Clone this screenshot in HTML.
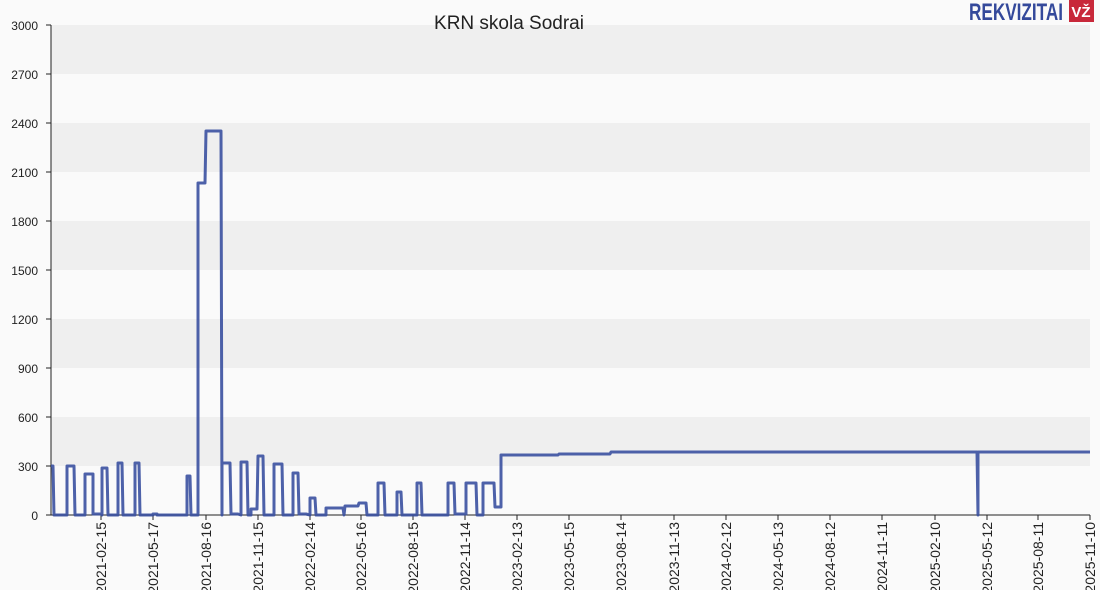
<!DOCTYPE html>
<html><head><meta charset="utf-8"><style>
html,body{margin:0;padding:0;background:#fafafa;}
svg{display:block;font-family:"Liberation Sans",Arial,sans-serif;}
</style></head><body>
<svg width="1100" height="590" viewBox="0 0 1100 590" xmlns="http://www.w3.org/2000/svg">
<rect width="1100" height="590" fill="#fafafa"/>
<g fill="#efefef">
<rect x="51" y="25" width="1039" height="49"/>
<rect x="51" y="123" width="1039" height="49"/>
<rect x="51" y="221" width="1039" height="49"/>
<rect x="51" y="319" width="1039" height="49"/>
<rect x="51" y="417" width="1039" height="49"/>
</g>
<text x="509" y="29" font-size="19" text-anchor="middle" fill="#222">KRN skola Sodrai</text>
<text x="1063" y="20" font-size="24" font-weight="bold" text-anchor="end" fill="#34499b" textLength="94" lengthAdjust="spacingAndGlyphs">REKVIZITAI</text>
<rect x="1069" y="0" width="25" height="22" fill="#c8283a"/>
<text x="1081" y="17" font-size="15" font-weight="bold" text-anchor="middle" fill="#fff">VŽ</text>
<g font-size="12" fill="#222" text-anchor="end">
<text x="38" y="30">3000</text><text x="38" y="79">2700</text><text x="38" y="128">2400</text>
<text x="38" y="177">2100</text><text x="38" y="226">1800</text><text x="38" y="275">1500</text>
<text x="38" y="324">1200</text><text x="38" y="373">900</text><text x="38" y="422">600</text>
<text x="38" y="471">300</text><text x="38" y="520">0</text>
</g>
<g stroke="#222" stroke-width="1">
<line x1="51" y1="25" x2="51" y2="515"/>
<line x1="46" y1="515" x2="1090" y2="515"/>
<line x1="46" y1="25" x2="51" y2="25"/><line x1="46" y1="74" x2="51" y2="74"/><line x1="46" y1="123" x2="51" y2="123"/>
<line x1="46" y1="172" x2="51" y2="172"/><line x1="46" y1="221" x2="51" y2="221"/><line x1="46" y1="270" x2="51" y2="270"/>
<line x1="46" y1="319" x2="51" y2="319"/><line x1="46" y1="368" x2="51" y2="368"/><line x1="46" y1="417" x2="51" y2="417"/>
<line x1="46" y1="466" x2="51" y2="466"/>
</g>
<g stroke="#222" stroke-width="1">
<line x1="101" y1="515" x2="101" y2="520"/><line x1="153" y1="515" x2="153" y2="520"/><line x1="206" y1="515" x2="206" y2="520"/>
<line x1="258" y1="515" x2="258" y2="520"/><line x1="310" y1="515" x2="310" y2="520"/><line x1="361" y1="515" x2="361" y2="520"/>
<line x1="413" y1="515" x2="413" y2="520"/><line x1="465" y1="515" x2="465" y2="520"/><line x1="517" y1="515" x2="517" y2="520"/>
<line x1="569" y1="515" x2="569" y2="520"/><line x1="621" y1="515" x2="621" y2="520"/><line x1="674" y1="515" x2="674" y2="520"/>
<line x1="726" y1="515" x2="726" y2="520"/><line x1="778" y1="515" x2="778" y2="520"/><line x1="830" y1="515" x2="830" y2="520"/>
<line x1="882" y1="515" x2="882" y2="520"/><line x1="935" y1="515" x2="935" y2="520"/><line x1="987" y1="515" x2="987" y2="520"/>
<line x1="1038" y1="515" x2="1038" y2="520"/><line x1="1090" y1="515" x2="1090" y2="520"/>
</g>
<g font-size="14" fill="#222" text-anchor="end">
<text transform="translate(106,522) rotate(-90)">2021-02-15</text>
<text transform="translate(158,522) rotate(-90)">2021-05-17</text>
<text transform="translate(211,522) rotate(-90)">2021-08-16</text>
<text transform="translate(263,522) rotate(-90)">2021-11-15</text>
<text transform="translate(315,522) rotate(-90)">2022-02-14</text>
<text transform="translate(366,522) rotate(-90)">2022-05-16</text>
<text transform="translate(418,522) rotate(-90)">2022-08-15</text>
<text transform="translate(470,522) rotate(-90)">2022-11-14</text>
<text transform="translate(522,522) rotate(-90)">2023-02-13</text>
<text transform="translate(574,522) rotate(-90)">2023-05-15</text>
<text transform="translate(626,522) rotate(-90)">2023-08-14</text>
<text transform="translate(679,522) rotate(-90)">2023-11-13</text>
<text transform="translate(731,522) rotate(-90)">2024-02-12</text>
<text transform="translate(783,522) rotate(-90)">2024-05-13</text>
<text transform="translate(835,522) rotate(-90)">2024-08-12</text>
<text transform="translate(887,522) rotate(-90)">2024-11-11</text>
<text transform="translate(940,522) rotate(-90)">2025-02-10</text>
<text transform="translate(992,522) rotate(-90)">2025-05-12</text>
<text transform="translate(1043,522) rotate(-90)">2025-08-11</text>
<text transform="translate(1095,522) rotate(-90)">2025-11-10</text>
</g>
<path fill="none" stroke="#3a50a0" stroke-width="3" stroke-linejoin="round" opacity="0.9" d="
M51,466 L53,466 L54,515 L67,515 L67,466 L74,466 L75,515 L85,515 L85,474 L93,474 L93,514 L101,514 L102,515 L102,468 L107,468 L108,515
L118,515 L118,463 L122,463 L123,515 L135,515 L135,463 L139,463 L140,515 L153,515 L153,514 L157,514 L157,515 L187,515 L187,476 L190,476 L191,515
L198,515 L198,183 L205,183 L206,131 L221,131 L222,515 L222,463 L230,463 L231,514 L238,514 L241,515 L241,462 L247,462 L248,515 L251,515 L251,509 L257,509
L258,456 L263,456 L264,515 L274,515 L274,464 L282,464 L283,515 L293,515 L293,473 L298,473 L299,514 L306,514 L310,515 L310,498 L315,498 L316,515
L326,515 L326,508 L343,508 L344,515 L345,506 L358,506 L359,503 L366,503 L367,515 L378,515 L378,483 L384,483 L385,515 L397,515 L397,492 L401,492 L402,515
L417,515 L417,483 L421,483 L422,515 L448,515 L448,483 L454,483 L455,514 L466,514 L466,483 L476,483 L477,515 L483,515 L483,483 L494,483 L495,507 L501,507
L501,455 L558,455 L559,454 L610,454 L611,452 L977,452 L978,515 L978,452 L1090,452"/>
</svg>
</body></html>
